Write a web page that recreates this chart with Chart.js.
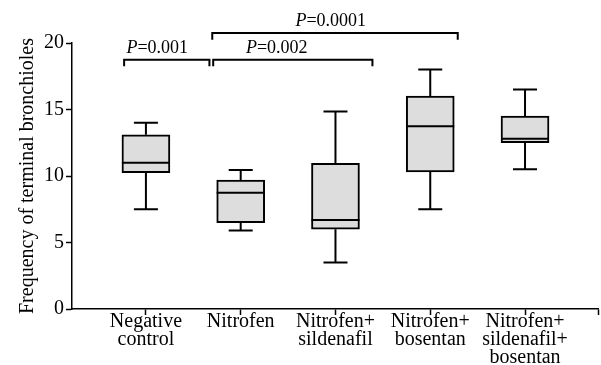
<!DOCTYPE html>
<html>
<head>
<meta charset="utf-8">
<script src="https://cdn.jsdelivr.net/npm/chart.js@4"></script>
<style>
  html, body { margin: 0; padding: 0; background: #fff; }
  #wrap { width: 601px; height: 365px; }
</style>
</head>
<body>
<div id="wrap"><canvas id="boxChart"></canvas></div>
<script>
// groups on the x axis (multi-line labels)
const groups = [
  ['Negative', 'control'],
  ['Nitrofen'],
  ['Nitrofen+', 'sildenafil'],
  ['Nitrofen+', 'bosentan'],
  ['Nitrofen+', 'sildenafil+', 'bosentan']
];
// five-number summaries
const whiskerLow  = [7.5, 5.9, 3.5, 7.5, 10.5];
const boxLow      = [10.25, 6.5, 6.0, 10.3, 12.5];
const medians     = [11.0, 8.75, 6.7, 13.75, 12.8];
const boxHigh     = [13.1, 9.7, 10.95, 16.0, 14.5];
const whiskerHigh = [14.0, 10.45, 14.85, 18.0, 16.5];
const yTicks = [0, 5, 10, 15, 20];

// significance brackets (x in group index units, y in value units)
const bracketFrom   = [-0.23, 0.71, 0.70];
const bracketTo     = [0.67, 2.39, 3.29];
const bracketLevel  = [18.75, 18.75, 20.75];
const bracketText   = ['=0.001', '=0.002', '=0.0001'];
const bracketTextAt = [0.12, 1.38, 1.95];

const FONT = "'Liberation Serif', 'Times New Roman', serif";

const boxPlotLines = {
  id: 'boxPlotLines',
  afterDatasetsDraw(chart) {
    const { ctx, scales: { x, y } } = chart;
    const bars = chart.getDatasetMeta(0).data;
    ctx.save();
    ctx.strokeStyle = '#000';
    ctx.lineWidth = 2;
    bars.forEach((bar, i) => {
      const cx = x.getPixelForValue(i);
      const half = bar.width / 2;
      const cap = bar.width / 4;
      ctx.beginPath();
      // median
      ctx.moveTo(cx - half, y.getPixelForValue(medians[i]));
      ctx.lineTo(cx + half, y.getPixelForValue(medians[i]));
      // upper whisker
      ctx.moveTo(cx, y.getPixelForValue(boxHigh[i]));
      ctx.lineTo(cx, y.getPixelForValue(whiskerHigh[i]));
      ctx.moveTo(cx - cap, y.getPixelForValue(whiskerHigh[i]));
      ctx.lineTo(cx + cap, y.getPixelForValue(whiskerHigh[i]));
      // lower whisker
      ctx.moveTo(cx, y.getPixelForValue(boxLow[i]));
      ctx.lineTo(cx, y.getPixelForValue(whiskerLow[i]));
      ctx.moveTo(cx - cap, y.getPixelForValue(whiskerLow[i]));
      ctx.lineTo(cx + cap, y.getPixelForValue(whiskerLow[i]));
      ctx.stroke();
    });
    ctx.restore();
  }
};

const sigBrackets = {
  id: 'sigBrackets',
  afterDraw(chart) {
    const { ctx, scales: { x, y } } = chart;
    ctx.save();
    ctx.strokeStyle = '#000';
    ctx.fillStyle = '#000';
    ctx.lineWidth = 2;
    ctx.textBaseline = 'alphabetic';
    bracketLevel.forEach((lvl, i) => {
      const x1 = x.getPixelForValue(bracketFrom[i]);
      const x2 = x.getPixelForValue(bracketTo[i]);
      const yTop = y.getPixelForValue(lvl);
      const yLeg = y.getPixelForValue(lvl - 0.5);
      ctx.beginPath();
      ctx.moveTo(x1, yLeg);
      ctx.lineTo(x1, yTop);
      ctx.lineTo(x2, yTop);
      ctx.lineTo(x2, yLeg);
      ctx.stroke();

      // "P" in italics, then the value
      const base = y.getPixelForValue(lvl + 0.5);
      ctx.font = 'italic 18px ' + FONT;
      const wP = ctx.measureText('P').width;
      ctx.font = '18px ' + FONT;
      const wV = ctx.measureText(bracketText[i]).width;
      const left = x.getPixelForValue(bracketTextAt[i]) - (wP + wV) / 2;
      ctx.textAlign = 'left';
      ctx.font = 'italic 18px ' + FONT;
      ctx.fillText('P', left, base);
      ctx.font = '18px ' + FONT;
      ctx.fillText(bracketText[i], left + wP, base);
    });
    ctx.restore();
  }
};

new Chart(document.getElementById('boxChart'), {
  type: 'bar',
  data: {
    datasets: [{
      data: groups.map((g, i) => ({ x: i, y: [boxLow[i], boxHigh[i]] })),
      backgroundColor: '#dcdddc',
      borderColor: '#000',
      borderWidth: 2,
      borderSkipped: false,
      barThickness: 48
    }]
  },
  options: {
    responsive: true,
    maintainAspectRatio: false,
    animation: false,
    layout: { padding: { top: 43, right: 3, left: 16, bottom: 0 } },
    plugins: {
      legend: { display: false },
      tooltip: { enabled: false }
    },
    scales: {
      x: {
        type: 'linear',
        offset: false,
        min: -0.78,
        max: 4.77,
        afterBuildTicks: s => {
          s.ticks = groups.map((g, i) => ({ value: i })).concat([{ value: 4.77 }]);
        },
        grid: { offset: false, drawOnChartArea: false, tickLength: 6, color: '#000', tickWidth: 1.5 },
        border: { color: '#000', width: 1.5 },
        ticks: {
          callback: v => groups[v] || '',
          autoSkip: false,
          maxRotation: 0,
          color: '#000',
          padding: -2,
          font: { family: FONT, size: 20, lineHeight: 0.9 }
        }
      },
      y: {
        min: 0,
        max: 20,
        afterBuildTicks: s => { s.ticks = yTicks.map(v => ({ value: v })); },
        grid: { drawOnChartArea: false, tickLength: 6, color: '#000', tickWidth: 1.5 },
        border: { color: '#000', width: 1.5 },
        ticks: { color: '#000', padding: 2, font: { family: FONT, size: 20 } },
        title: {
          display: true,
          text: 'Frequency of terminal bronchioles',
          color: '#000',
          padding: { top: 0, bottom: 2 },
          font: { family: FONT, size: 20 }
        }
      }
    }
  },
  plugins: [boxPlotLines, sigBrackets]
});
</script>
</body>
</html>
